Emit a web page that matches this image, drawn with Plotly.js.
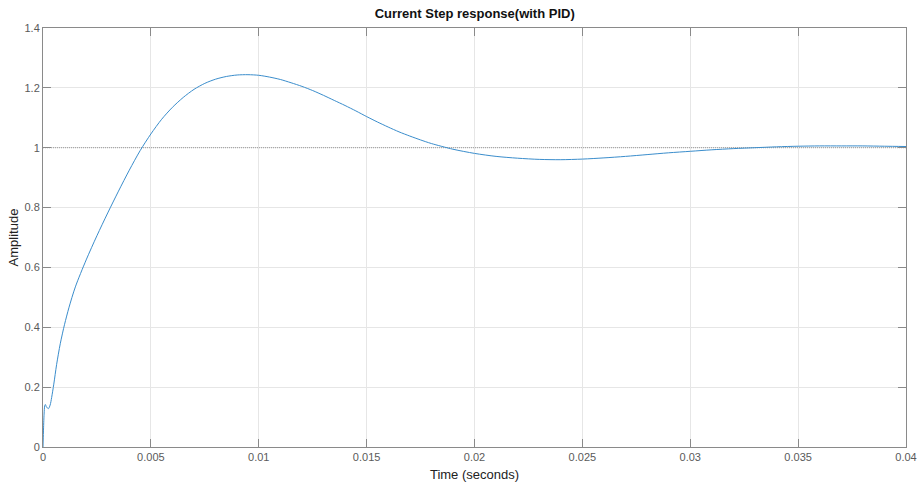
<!DOCTYPE html>
<html>
<head>
<meta charset="utf-8">
<script src="https://cdn.plot.ly/plotly-3.0.1.min.js"></script>
<style>
  html, body { margin: 0; padding: 0; background: #ffffff; }
  #chart { width: 920px; height: 488px; }
</style>
</head>
<body>
<div id="chart"></div>
<script>
// Step response samples: time (s) and amplitude
const timeSec = [
  0, 0.00002, 0.00005, 0.00008, 0.00011, 0.00016, 0.00025, 0.00033, 0.0004,
  0.0005, 0.00063, 0.0008, 0.001, 0.0012, 0.0015, 0.002, 0.0025, 0.003,
  0.0035, 0.004, 0.0045, 0.005, 0.0055, 0.006, 0.0065, 0.007, 0.0075, 0.008,
  0.0085, 0.009, 0.0095, 0.01, 0.0105, 0.011, 0.0115, 0.012, 0.0125, 0.013,
  0.0135, 0.014, 0.0145, 0.015, 0.0155, 0.016, 0.0165, 0.017, 0.0175, 0.018,
  0.019, 0.02, 0.021, 0.022, 0.023, 0.024,
  0.025, 0.026, 0.027, 0.028, 0.029, 0.03, 0.031, 0.032, 0.033, 0.034,
  0.035, 0.036, 0.037, 0.038, 0.039, 0.04
];
const amplitude = [
  0, 0.05, 0.11, 0.138, 0.142, 0.134, 0.128, 0.14, 0.165,
  0.21, 0.275, 0.345, 0.41, 0.465, 0.535, 0.625, 0.706, 0.782,
  0.855, 0.925, 0.99, 1.046, 1.095, 1.135, 1.168, 1.195, 1.215, 1.229,
  1.238, 1.243, 1.244, 1.242, 1.236, 1.228, 1.217, 1.205, 1.191, 1.175,
  1.158, 1.141, 1.123, 1.104, 1.086, 1.069, 1.053, 1.039, 1.026, 1.014,
  0.995, 0.981, 0.971, 0.965, 0.961, 0.960,
  0.962, 0.966, 0.971, 0.977, 0.983, 0.988, 0.993, 0.997, 1.0, 1.003,
  1.005, 1.006, 1.006, 1.006, 1.005, 1.004
];
// Steady-state reference level
const refTime = [0, 0.04];
const refLevel = [1, 1];

const xTicks = [0, 0.005, 0.01, 0.015, 0.02, 0.025, 0.03, 0.035, 0.04];
const xTickText = ['0', '0.005', '0.01', '0.015', '0.02', '0.025', '0.03', '0.035', '0.04'];
const yTicks = [0, 0.2, 0.4, 0.6, 0.8, 1, 1.2, 1.4];
const yTickText = ['0', '0.2', '0.4', '0.6', '0.8', '1', '1.2', '1.4'];

const font = 'Liberation Sans, Arial, Helvetica, sans-serif';
const axisColor = '#8a8a8a';

const traces = [
  {
    x: refTime, y: refLevel, mode: 'lines', hoverinfo: 'skip',
    line: { color: '#9a9a9a', width: 1, dash: '1px,1px' }
  },
  {
    x: timeSec, y: amplitude, mode: 'lines',
    line: { color: '#3a8dcc', width: 1, shape: 'spline', smoothing: 0.8 }
  }
];

const commonAxis = {
  showline: true, linecolor: axisColor, linewidth: 1, mirror: 'ticks',
  ticks: 'inside', ticklen: 8, tickcolor: axisColor, tickwidth: 1,
  showgrid: true, gridcolor: '#e6e6e6', gridwidth: 1, zeroline: false,
  tickfont: { family: font, size: 11, color: '#5a5a5a' }
};

const layout = {
  width: 920, height: 488,
  margin: { l: 43, r: 14, t: 28, b: 41 },
  paper_bgcolor: '#ffffff', plot_bgcolor: '#ffffff',
  showlegend: false,
  title: {
    text: '<b>Current Step response(with PID)</b>',
    font: { family: font, size: 13, color: '#111111' },
    x: 0.516, xanchor: 'center', y: 0.973, yanchor: 'middle'
  },
  xaxis: Object.assign({}, commonAxis, {
    range: [0, 0.04], tickvals: xTicks, ticktext: xTickText,
    title: { text: 'Time (seconds)', font: { family: font, size: 13, color: '#222222' }, standoff: 7 }
  }),
  yaxis: Object.assign({}, commonAxis, {
    range: [0, 1.4], tickvals: yTicks, ticktext: yTickText,
    title: { text: 'Amplitude', font: { family: font, size: 13, color: '#222222' }, standoff: 2 }
  })
};

Plotly.newPlot('chart', traces, layout, { displayModeBar: false, staticPlot: true });
</script>
</body>
</html>
